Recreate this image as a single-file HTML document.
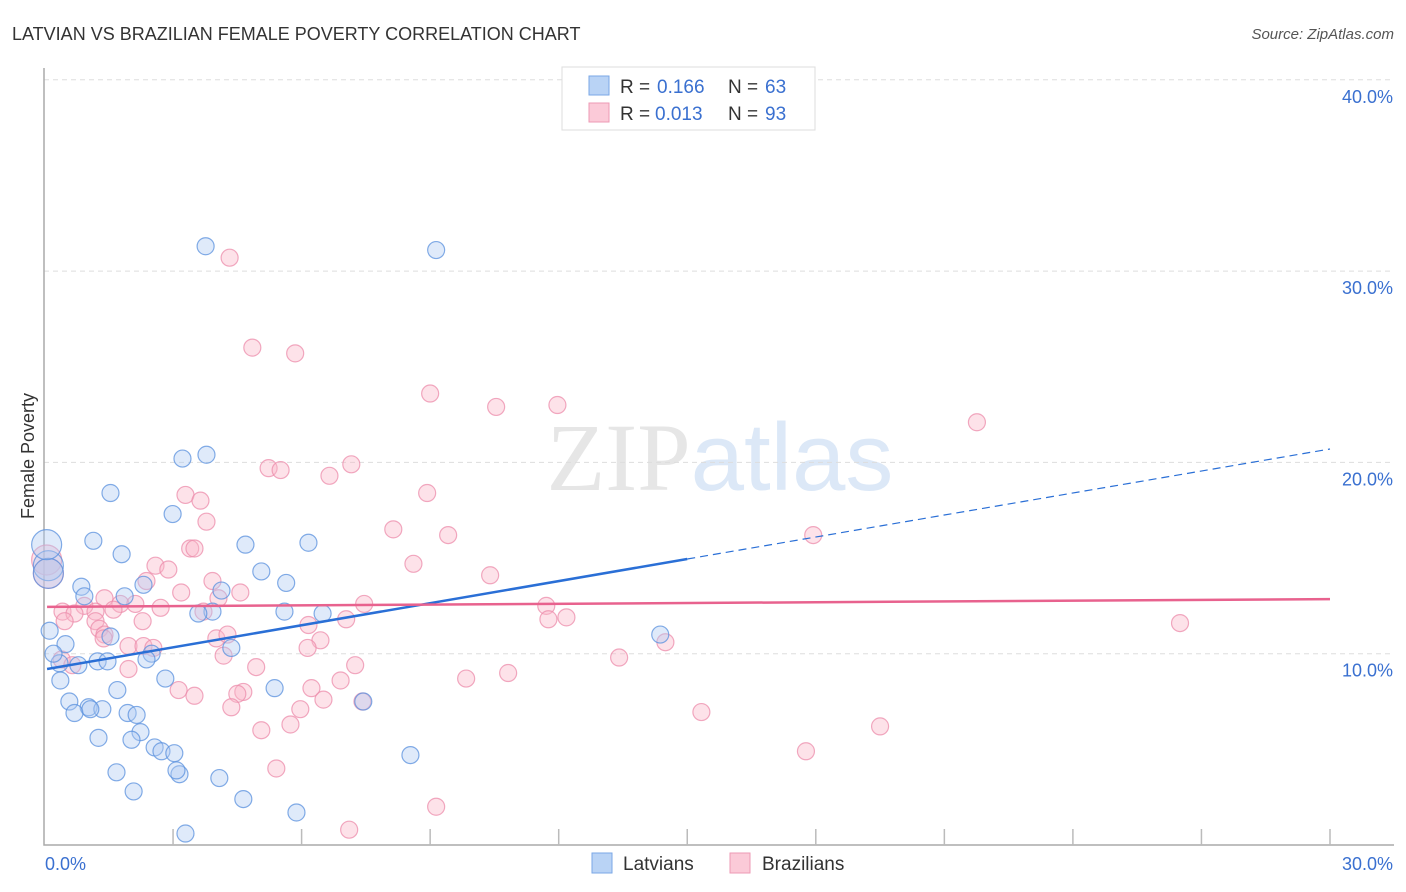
<!DOCTYPE html>
<html><head><meta charset="utf-8"><style>
body{margin:0;background:#fff;font-family:"Liberation Sans",sans-serif}
</style></head><body>
<svg id="chart" width="1406" height="892" xmlns="http://www.w3.org/2000/svg" style="display:block">
<text x="12" y="40" font-size="18" fill="#333">LATVIAN VS BRAZILIAN FEMALE POVERTY CORRELATION CHART</text>
<text x="1394" y="39" font-size="15" fill="#555" text-anchor="end" font-style="italic">Source: ZipAtlas.com</text>
<text x="720" y="490" font-size="96" text-anchor="middle" font-family="Liberation Serif" fill="#e6e6e6">ZIP<tspan fill="#dce8f7" font-family="Liberation Sans">atlas</tspan></text>
<text transform="translate(34,456) rotate(-90)" font-size="18" fill="#333" text-anchor="middle">Female Poverty</text>
<g id="grid"></g><g id="axes"></g><g id="pts"></g><g id="lines"></g>
<g>
<rect x="562" y="67" width="253" height="63" fill="#fff" stroke="#ddd"/>
<rect x="589" y="76" width="20" height="19" fill="#b9d3f5" stroke="#7aa7e6"/>
<rect x="589" y="103" width="20" height="19" fill="#fbcad8" stroke="#ee9ab4"/>
<text x="620" y="93" font-size="19" fill="#333">R = </text><text x="657" y="93" font-size="19" fill="#3a70d0">0.166</text>
<text x="728" y="93" font-size="19" fill="#333">N = </text><text x="765" y="93" font-size="19" fill="#3a70d0">63</text>
<text x="620" y="120" font-size="19" fill="#333">R = </text><text x="655" y="120" font-size="19" fill="#3a70d0">0.013</text>
<text x="728" y="120" font-size="19" fill="#333">N = </text><text x="765" y="120" font-size="19" fill="#3a70d0">93</text>
</g>
<g>
<rect x="592" y="853" width="20" height="20" fill="#b9d3f5" stroke="#7aa7e6"/>
<text x="623" y="870" font-size="19" fill="#333">Latvians</text>
<rect x="730" y="853" width="20" height="20" fill="#fbcad8" stroke="#ee9ab4"/>
<text x="762" y="870" font-size="19" fill="#333">Brazilians</text>
</g>
</svg>
<script>
const yTicks=[10,20,30,40];
const yTickLabels=["10.0%","20.0%","30.0%","40.0%"];
const xTickLabels=["0.0%","30.0%"];
const latX=[3.76,9.14,3.78,3.22,1.54,2.99,1.14,1.80,4.69,6.16,5.06,5.64,0.86,2.31,4.13,3.92,5.60,6.49,0.93,1.87,3.59,0.12,0.49,1.54,4.36,2.50,2.38,0.35,0.79,1.24,1.47,0.21,2.82,0.37,1.70,5.37,0.58,7.44,1.03,0.70,1.35,1.07,1.94,2.15,2.24,1.26,2.03,2.57,2.73,3.03,1.68,3.15,4.08,8.54,2.08,4.64,3.08,5.88,3.29,14.37,0.09,0.09,0.05];
const latY=[31.3,31.1,20.4,20.2,18.4,17.3,15.9,15.2,15.7,15.8,14.3,13.7,13.5,13.6,13.3,12.2,12.2,12.1,13.0,13.0,12.1,11.2,10.5,10.9,10.3,10.0,9.7,9.5,9.4,9.6,9.6,10.0,8.7,8.6,8.1,8.2,7.5,7.5,7.2,6.9,7.1,7.1,6.9,6.8,5.9,5.6,5.5,5.1,4.9,4.8,3.8,3.7,3.5,4.7,2.8,2.4,3.9,1.7,0.6,11.0,14.6,14.2,15.7];
const braX=[4.32,4.85,5.85,9.00,10.54,11.97,21.76,7.16,5.23,5.51,6.65,3.29,3.64,8.93,3.78,8.14,9.42,3.40,3.50,8.61,17.94,10.40,2.59,2.89,2.38,3.92,4.57,3.19,4.06,1.40,1.77,2.12,2.71,0.93,0.42,0.70,1.19,1.61,7.46,11.71,12.18,11.76,7.04,3.71,26.50,2.29,6.16,6.44,0.47,1.19,1.28,1.40,4.01,4.27,1.38,1.96,2.31,2.54,6.14,14.49,0.40,0.65,4.18,13.41,4.94,7.25,1.96,10.82,9.84,6.91,6.23,3.13,4.64,4.50,3.50,6.51,7.42,4.36,5.97,15.33,19.50,5.06,5.74,17.77,5.41,9.14,7.11,0.05,0.09];
const braY=[30.7,26.0,25.7,23.6,22.9,23.0,22.1,19.9,19.7,19.6,19.3,18.3,18.0,18.4,16.9,16.5,16.2,15.5,15.5,14.7,16.2,14.1,14.6,14.4,13.8,13.8,13.2,13.2,12.9,12.9,12.6,12.6,12.4,12.5,12.2,12.1,12.2,12.3,12.6,12.5,11.9,11.8,11.8,12.2,11.6,11.7,11.5,10.7,11.7,11.7,11.3,11.0,10.8,11.0,10.8,10.4,10.4,10.3,10.3,10.6,9.7,9.4,9.9,9.8,9.3,9.4,9.2,8.99,8.7,8.6,8.2,8.1,8.0,7.9,7.8,7.6,7.5,7.2,7.1,6.95,6.2,6.0,6.3,4.9,4.0,2.0,0.8,14.9,14.2];
const blueTrend=[9.2,20.7];
const pinkTrend=[12.45,12.85];
const X0=44.5,XW=42.85,Y0=845,YH=19.13;
const sx=v=>X0+v*XW, sy=v=>Y0-v*YH;
const NS="http://www.w3.org/2000/svg";
function mk(t,a,p){const e=document.createElementNS(NS,t);for(const k in a)e.setAttribute(k,a[k]);p.appendChild(e);return e;}
const grid=document.getElementById('grid'),axes=document.getElementById('axes');
yTicks.forEach((t,i)=>{
 const l=mk('line',{x1:44,x2:1394,y1:sy(t),y2:sy(t),stroke:'#ddd','stroke-dasharray':'5,4'},grid);
 
 
 const tx=mk('text',{x:1393,y:sy(t)+23,'font-size':18,fill:'#3a70d0','text-anchor':'end'},axes);
 tx.textContent=yTickLabels[i];
 
 
});
const ax=mk('path',{d:`M44,68 V845 H1394`,stroke:'#aaa',fill:'none','stroke-width':1.5},axes);


for(let i=1;i<=10;i++){
 const t=mk('line',{x1:sx(i*3),x2:sx(i*3),y1:829,y2:845,stroke:'#bbb','stroke-width':1.5},axes);
 
 
}
[[0,'start',45],[30,'end',1393]].forEach((d,i)=>{
 const tx=mk('text',{x:d[2],y:870,'font-size':18,fill:'#3a70d0','text-anchor':d[1]},axes);
 tx.textContent=xTickLabels[i];
 
 
});
const pts=document.getElementById('pts');
function dots(xs,ys,fill,stroke,name,bigFrom){
 xs.forEach((x,i)=>{
  const r=i>=bigFrom?15:8.5;
  const c=mk('circle',{cx:sx(x),cy:sy(ys[i]),r:r,fill:fill,'fill-opacity':0.4,stroke:stroke,'stroke-width':1.2,'stroke-opacity':0.75},pts);
  
  
 });
}
dots(braX,braY,'#f9b6c9','#ec8cab','brazilian-point',braX.length-2);
dots(latX,latY,'#aecbf2','#5a90de','latvian-point',latX.length-3);
const lines=document.getElementById('lines');
const bm=(blueTrend[0]+blueTrend[1])/2;
let l1=mk('line',{x1:sx(0.06),y1:sy(blueTrend[0]),x2:sx(15),y2:sy(bm),stroke:'#2a6fd6','stroke-width':2.5},lines);


let l2=mk('line',{x1:sx(15),y1:sy(bm),x2:sx(30),y2:sy(blueTrend[1]),stroke:'#2a6fd6','stroke-width':1.2,'stroke-dasharray':'8,5'},lines);


let l3=mk('line',{x1:sx(0.06),y1:sy(pinkTrend[0]),x2:sx(30),y2:sy(pinkTrend[1]),stroke:'#e8628e','stroke-width':2.5},lines);


</script>
</body></html>
